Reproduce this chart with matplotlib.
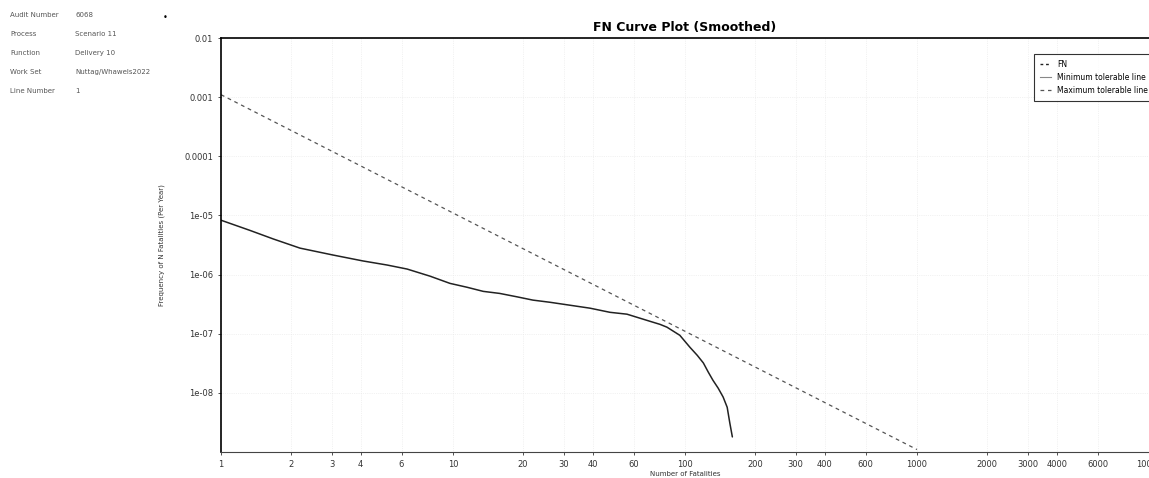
import matplotlib
matplotlib.use("Agg")
import matplotlib.pyplot as plt
from matplotlib.lines import Line2D
from matplotlib.ticker import FixedLocator, FixedFormatter, NullLocator

# ---- data ----
fn_n = [1, 1.33, 1.68, 2.19, 3.04, 4.09, 5.2, 6.34, 7.96, 9.7, 11.5, 13.5, 15.9, 18.9,
        22.1, 26.2, 39.0, 47.5, 56.2, 70.7, 78, 83.6, 95, 105, 113, 120, 126, 132,
        139, 146, 152, 156, 160]
fn_f = [8.3e-6, 5.6e-6, 4.0e-6, 2.8e-6, 2.14e-6, 1.70e-6, 1.45e-6, 1.24e-6, 9.4e-7,
        7.1e-7, 6.1e-7, 5.2e-7, 4.8e-7, 4.2e-7, 3.7e-7, 3.4e-7, 2.7e-7, 2.3e-7,
        2.14e-7, 1.62e-7, 1.44e-7, 1.29e-7, 9.4e-8, 5.9e-8, 4.3e-8, 3.2e-8, 2.24e-8,
        1.63e-8, 1.2e-8, 8.5e-9, 5.7e-9, 3.1e-9, 1.8e-9]

tol_n = [1, 1000]
tol_f = [1.1e-3, 1.1e-9]

x_ticks = [1, 2, 3, 4, 6, 10, 20, 30, 40, 60, 100, 200, 300, 400, 600, 1000,
           2000, 3000, 4000, 6000, 10000]
x_labels = ["1", "2", "3", "4", "6", "10", "20", "30", "40", "60", "100", "200", "300",
            "400", "600", "1000", "2000", "3000", "4000", "6000", "10000"]
y_ticks = [1e-2, 1e-3, 1e-4, 1e-5, 1e-6, 1e-7, 1e-8]
y_labels = ["0.01", "0.001", "0.0001", "1e-05", "1e-06", "1e-07", "1e-08"]

info_keys = ["Audit Number", "Process", "Function", "Work Set", "Line Number"]
info_vals = ["6068", "Scenario 11", "Delivery 10", "Nuttag/Whawels2022", "1"]

legend_labels = ["FN", "Minimum tolerable line", "Maximum tolerable line"]

# ---- figure ----
W, H = 1149, 478
fig = plt.figure(figsize=(W / 100, H / 100), dpi=100)
ax = fig.add_axes([221 / W, 1 - 452 / H, (W - 221) / W, (452 - 38) / H])

ax.set_xscale("log")
ax.set_yscale("log")
ax.set_xlim(1, 10000)
ax.set_ylim(1e-9, 1e-2)

ax.plot(fn_n, fn_f, color="#222222", lw=1.1, solid_capstyle="round", solid_joinstyle="round")
ax.plot(tol_n, tol_f, color="#555555", lw=0.9, ls=(0, (3, 3)))

ax.xaxis.set_major_locator(FixedLocator(x_ticks))
ax.xaxis.set_major_formatter(FixedFormatter(x_labels))
ax.xaxis.set_minor_locator(NullLocator())
ax.yaxis.set_major_locator(FixedLocator(y_ticks))
ax.yaxis.set_major_formatter(FixedFormatter(y_labels))
ax.yaxis.set_minor_locator(NullLocator())
ax.tick_params(axis="both", labelsize=6, colors="#333333", length=2, width=0.6)

ax.grid(True, which="major", color="#e6e6e6", lw=0.5, ls=":")

for side in ["left", "top"]:
    ax.spines[side].set_linewidth(1.2)
    ax.spines[side].set_color("black")
ax.spines["bottom"].set_linewidth(0.8)
ax.spines["bottom"].set_color("#444444")
ax.spines["right"].set_visible(False)

ax.set_title("FN Curve Plot (Smoothed)", fontsize=9, fontweight="bold", pad=5)
ax.set_xlabel("Number of Fatalities", fontsize=5, color="#333333", labelpad=2)
ax.set_ylabel("Frequency of N Fatalities (Per Year)", fontsize=5, color="#333333", labelpad=14)

handles = [
    Line2D([], [], color="#222222", lw=1.0, ls=(0, (2, 2))),
    Line2D([], [], color="#888888", lw=0.8),
    Line2D([], [], color="#555555", lw=0.9, ls=(0, (3, 3))),
]
leg = ax.legend(handles, legend_labels, loc="upper left",
                bbox_to_anchor=((1030 - 221) / (W - 221), 1 - (50 - 38) / (452 - 38)),
                fontsize=5.5, frameon=True, fancybox=False, edgecolor="black",
                handlelength=1.5, borderpad=0.8, labelspacing=0.5)
leg.get_frame().set_linewidth(0.8)

for i, (k, v) in enumerate(zip(info_keys, info_vals)):
    yy = 1 - (15 + i * 19) / H
    fig.text(10 / W, yy, k, fontsize=5, color="#555555", va="center")
    fig.text(75 / W, yy, v, fontsize=5, color="#555555", va="center")
fig.text(163 / W, 1 - 18 / H, "\u2022", fontsize=6, color="black", va="center")

fig.savefig("out.png", dpi=100)
